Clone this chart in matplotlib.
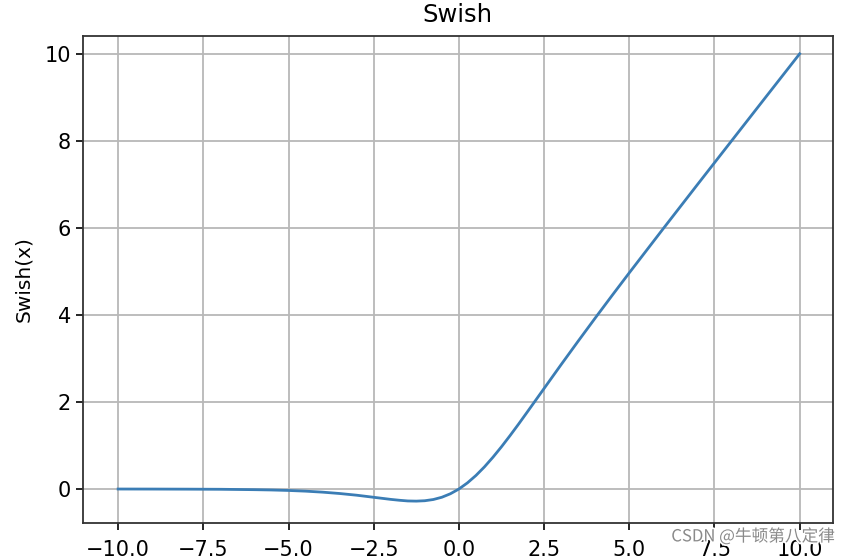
'''
Swish activation curve, redrawn
'''

import matplotlib
matplotlib.use('Agg')
import matplotlib.pyplot as plt
import matplotlib.patheffects as pe

# values
x_vals = [-10.0, -9.0, -8.0, -7.0, -6.0, -5.5, -5.0, -4.5, -4.0, -3.5,
          -3.0, -2.5, -2.0, -1.75, -1.5, -1.25, -1.0, -0.75, -0.5, -0.25,
          0.0, 0.25, 0.5, 0.75, 1.0, 1.25, 1.5, 1.75, 2.0, 2.5,
          3.0, 3.5, 4.0, 4.5, 5.0, 6.0, 7.0, 8.0, 9.0, 10.0]
y_vals = [-0.000, -0.001, -0.003, -0.006, -0.015, -0.022, -0.033, -0.049, -0.072, -0.103,
          -0.142, -0.190, -0.238, -0.258, -0.274, -0.278, -0.269, -0.241, -0.189, -0.109,
          0.000, 0.141, 0.311, 0.509, 0.731, 0.971, 1.226, 1.490, 1.762, 2.310,
          2.858, 3.397, 3.928, 4.451, 4.967, 5.985, 6.994, 7.997, 8.999, 9.999]

x_ticks = [-10.0, -7.5, -5.0, -2.5, 0.0, 2.5, 5.0, 7.5, 10.0]
y_ticks = [0, 2, 4, 6, 8, 10]

fig = plt.figure(figsize=(8.49, 5.56), dpi=100)
ax = fig.add_axes([0.0978, 0.0594, 0.883, 0.876])

ax.plot(x_vals, y_vals, color='#3b7db5', lw=2.0)
ax.set_xlim(-11.03, 10.97)
ax.set_ylim(-0.78, 10.41)
ax.set_xticks(x_ticks)
ax.set_yticks(y_ticks)
ax.grid(True, color='#b8b8b8', lw=1.3)
ax.tick_params(labelsize=15, length=5, width=1.2)
ax.tick_params(axis='x', pad=7)
for s in ax.spines.values():
    s.set_linewidth(1.3)
    s.set_color('#333333')

ax.set_title('Swish', fontsize=17.5, pad=10)
ax.set_ylabel('Swish(x)', fontsize=14.5, labelpad=8)

# site watermark at the bottom right, sits over the last tick labels
fig.text(0.983, 0.035, 'CSDN @牛顿第八定律', ha='right', va='center',
         fontsize=12, color='#8a8a8a',
         family=['Noto Sans CJK SC', 'DejaVu Sans'],
         path_effects=[pe.withStroke(linewidth=2.5, foreground='white')])

fig.savefig('out.png', dpi=100)
